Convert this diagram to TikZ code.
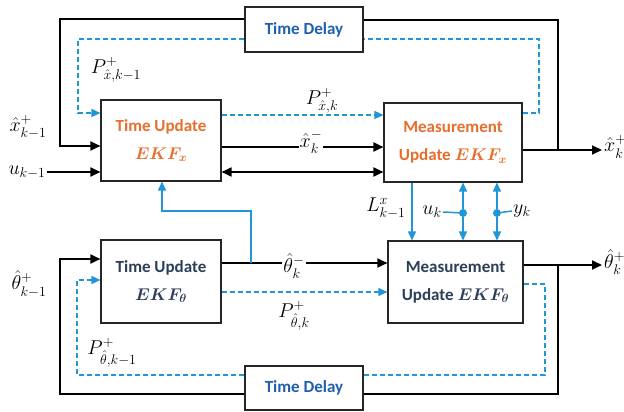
\documentclass[tikz,border=0pt]{standalone}
\usepackage{fix-cm}
\usepackage{amsmath,bm}
\usepackage{fontspec}
\setmainfont{Carlito}
\usetikzlibrary{arrows.meta,positioning}
\definecolor{ekfor}{RGB}{232,110,45}
\definecolor{ekfnavy}{RGB}{44,62,88}
\definecolor{delayblue}{RGB}{30,95,175}
\definecolor{linkblue}{RGB}{33,150,215}

\begin{document}
\begin{tikzpicture}[x=1pt,y=-1pt,line join=miter,
  block/.style={draw=black!85,line width=1.1pt,fill=white,align=center,inner sep=2pt,font=\fontsize{17}{28}\selectfont\bfseries},
  sig/.style={line width=1.8pt,-{Triangle[length=10pt,width=9pt]}},
  sigboth/.style={line width=1.8pt,{Triangle[length=10pt,width=9pt]}-{Triangle[length=10pt,width=9pt]}},
  wire/.style={line width=1.8pt},
  bsig/.style={draw=linkblue,line width=1.5pt,-{Triangle[length=9pt,width=8pt]}},
  bwire/.style={draw=linkblue,line width=1.5pt},
  dsig/.style={bsig,dash pattern=on 5pt off 3pt},
  dwire/.style={bwire,dash pattern=on 5pt off 3pt},
  lab/.style={font=\fontsize{20}{23}\selectfont,inner sep=1pt},
  jdot/.style={circle,fill=linkblue,inner sep=0pt,minimum size=8pt}]
\clip (0,0) rectangle (624,412);

% blocks
\node[block,text=ekfor,minimum width=120pt,minimum height=81pt] (tux) at (161,140.5) {Time Update\\$\bm{EKF_x}$};
\node[block,text=ekfor,minimum width=138pt,minimum height=79pt] (mux) at (453,142.5) {Measurement\\Update $\bm{EKF_x}$};
\node[block,text=delayblue,minimum width=118pt,minimum height=45pt] (tdx) at (304,29.5) {Time Delay};
\node[block,text=ekfnavy,minimum width=120pt,minimum height=83pt] (tut) at (161,281.5) {Time Update\\$\bm{EKF_\theta}$};
\node[block,text=ekfnavy,minimum width=135pt,minimum height=82pt] (mut) at (455.5,282) {Measurement\\Update $\bm{EKF_\theta}$};
\node[block,text=delayblue,minimum width=118pt,minimum height=44pt] (tdt) at (304,388) {Time Delay};

% state loop
\draw[wire] (mux.east |- 0,150) -- (558,150) -- (558,20) -- (tdx.east |- 0,20);
\draw[sig] (mux.east |- 0,150) -- (602,150);
\draw[sig] (tdx.west |- 0,19) -- (60,19) -- (60,146) -- (tux.west |- 0,146);
\draw[dwire] (mux.east |- 0,113) -- (539,113) -- (539,39) -- (tdx.east |- 0,39);
\draw[dsig] (tdx.west |- 0,39) -- (78,39) -- (78,113) -- (tux.west |- 0,113);
\draw[dsig] (tux.east |- 0,115) -- (mux.west |- 0,115);
\draw[sig] (tux.east |- 0,147) -- (mux.west |- 0,147);
\draw[sigboth] (tux.east |- 0,172) -- (mux.west |- 0,172);
\node[lab] (ukm) at (27,172) {$u_{k-1}$};
\draw[sig] (ukm.east) -- (tux.west |- ukm);

% parameter loop
\draw[sig] (tut.east |- 0,263) -- (mut.west |- 0,263);
\coordinate (br) at (251,263);
\draw[bsig] (br) -- (251,211) -- (162,211) -- (tux.south -| 162,0);
\draw[dsig] (tut.east |- 0,292) -- (mut.west |- 0,292);
\draw[wire] (mut.east |- 0,265) -- (558,265) -- (558,394) -- (tdt.east |- 0,394);
\draw[sig] (mut.east |- 0,265) -- (602,265);
\draw[sig] (tdt.west |- 0,394) -- (60,394) -- (60,259) -- (tut.west |- 0,259);
\draw[dwire] (mut.east |- 0,284) -- (545,284) -- (545,375) -- (tdt.east |- 0,375);
\draw[dsig] (tdt.west |- 0,375) -- (77,375) -- (77,280) -- (tut.west |- 0,280);

% links between the filters
\draw[bsig] (mux.south -| 412,0) -- (mut.north -| 412,0);
\node[jdot] (uk) at (463,213) {};
\node[jdot] (yk) at (497,213) {};
\draw[bsig] (uk) -- (mux.south -| uk);
\draw[bsig] (uk) -- (mut.north -| uk);
\draw[bsig] (yk) -- (mux.south -| yk);
\draw[bsig] (yk) -- (mut.north -| yk);
\node[lab] (uklab) at (432,212) {$u_k$};
\node[lab] (yklab) at (522,211) {$y_k$};
\draw[bwire] (uklab.east) -- (uk);
\draw[bwire] (yk) -- (yklab.west);

% labels
\node[lab] at (28,127) {$\hat{x}^{+}_{k-1}$};
\node[lab] at (116,70) {$P^{+}_{\hat{x},k-1}$};
\node[lab,fill=white] at (322,101) {$P^{+}_{\hat{x},k}$};
\node[lab,fill=white] at (311,142) {$\hat{x}^{-}_{k}$};
\node[lab,anchor=west] at (603,147) {$\hat{x}^{+}_{k}$};
\node[lab] at (386,208) {$L^{x}_{k-1}$};
\node[lab] at (29,284) {$\hat{\theta}^{+}_{k-1}$};
\node[lab,fill=white] at (294,266) {$\hat{\theta}^{-}_{k}$};
\node[lab] at (294,316) {$P^{+}_{\hat{\theta},k}$};
\node[lab] at (112,353) {$P^{+}_{\hat{\theta},k-1}$};
\node[lab,anchor=west] at (603,262) {$\hat{\theta}^{+}_{k}$};
\end{tikzpicture}
\end{document}
